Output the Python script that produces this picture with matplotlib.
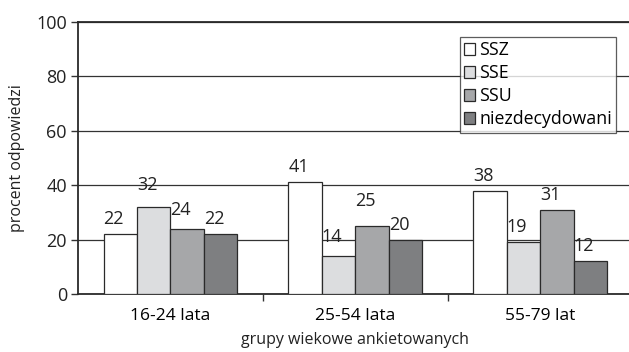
import matplotlib.pyplot as plt
import numpy as np

groups = ["16-24 lata", "25-54 lata", "55-79 lat"]
series = ["SSZ", "SSE", "SSU", "niezdecydowani"]
ssz = [22, 41, 38]
sse = [32, 14, 19]
ssu = [24, 25, 31]
undecided = [22, 20, 12]
# extra lift for a few value labels that sit higher above their bars
lift = [[0, 0, 0], [2.5, 1.5, 0], [1.5, 3.5, 0], [0, 0, 0]]

colors = ["#ffffff", "#dcdddf", "#a6a7a9", "#7e7f81"]

plt.rcParams["font.family"] = ["Open Sans", "DejaVu Sans"]

fig = plt.figure(figsize=(6.29, 3.52), dpi=100)
ax = fig.add_axes([0.124, 0.165, 0.882, 0.7725])

x = np.arange(len(groups))
w = 0.181
for i, (name, vals) in enumerate(zip(series, [ssz, sse, ssu, undecided])):
    pos = x + (i - 1.5) * w
    ax.bar(pos, vals, w, color=colors[i], edgecolor="#2a2a2a", linewidth=0.9,
           label=name, zorder=3)
    for p, v, l in zip(pos, vals, lift[i]):
        ax.text(p - 0.035, v + 5.5 + l, str(v), ha="center", va="center",
                fontsize=13, color="#222222")

ax.set_ylim(0, 100)
ax.set_xlim(-0.5, 2.5)
ax.set_yticks([0, 20, 40, 60, 80, 100])
ax.yaxis.grid(True, color="#333333", linewidth=0.9, zorder=0)
ax.set_xticks(x)
ax.set_xticklabels(groups)
ax.set_xticks([0.5, 1.5], minor=True)
ax.tick_params(axis="x", which="major", length=0, pad=10, labelsize=12.5)
ax.tick_params(axis="x", which="minor", length=5, width=1, color="#333333")
ax.tick_params(axis="y", length=5, width=1, color="#333333", labelsize=13,
               pad=3, labelcolor="#222222")

for s in ["left", "bottom", "top"]:
    ax.spines[s].set_color("#2a2a2a")
    ax.spines[s].set_linewidth(1.3)
ax.spines["right"].set_visible(False)

ax.set_xlabel("grupy wiekowe ankietowanych", fontsize=11.5, labelpad=6, color="#222222")
ax.set_ylabel("procent odpowiedzi", fontsize=11.5, labelpad=8, color="#222222")

leg = ax.legend(loc="upper left", bbox_to_anchor=(0.688, 0.945), fontsize=12.8,
                frameon=True, fancybox=False, edgecolor="#333333",
                handlelength=0.6, handleheight=0.6, handletextpad=0.25,
                labelspacing=0.28, borderpad=0.25, borderaxespad=0)
leg.get_frame().set_linewidth(0.9)

fig.savefig("out.png", dpi=100)
